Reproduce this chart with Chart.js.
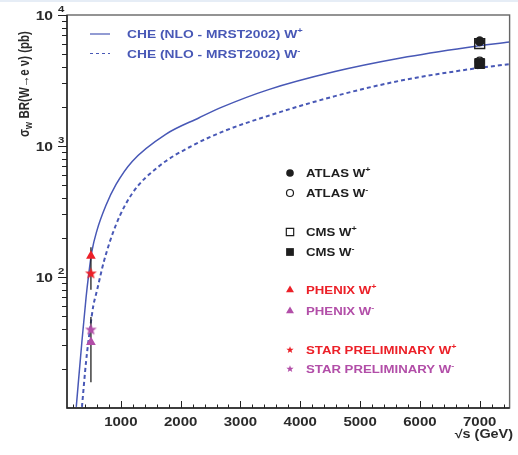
<!DOCTYPE html>
<html>
<head>
<meta charset="utf-8">
<script src="https://cdn.jsdelivr.net/npm/chart.js@4/dist/chart.umd.min.js"></script>
<style>
html, body { margin: 0; padding: 0; background: #fff; }
canvas { display: block; }
</style>
</head>
<body>
<canvas id="myChart" width="518" height="455"></canvas>
<script>
// CHE (NLO - MRST2002) curves
var cheWpX = [255, 350, 420, 460, 515, 600, 750, 920, 1190, 1750, 2310, 2690, 3470, 4580, 5680, 6790, 7500];
var cheWpY = [10.2, 32.5, 70.7, 102, 156, 226, 351, 509, 763, 1229, 1644, 1979, 2694, 3700, 4693, 5649, 6223];
var cheWmX = [350, 420, 485, 540, 600, 720, 920, 1190, 1635, 2190, 2740, 3470, 4580, 5680, 6790, 7500];
var cheWmY = [10.2, 22.9, 40.2, 60.3, 78.5, 133, 251, 434, 699, 1003, 1307, 1703, 2403, 3157, 3832, 4222];

// measurements (pb)
var lhcX = [7000];
var atlasWp = [6300];
var atlasWm = [4400];
var cmsWp = [6050];
var cmsWm = [4260];
var rhicX = [500];
var phenixWp = [145];
var phenixWm = [31.8];
var phenixWpErr = [80, 169];
var phenixWmErr = [15.7, 49.4];
var starWp = [106];
var starWm = [39.5];

// axis ticks
var xTickLabels = [1000, 2000, 3000, 4000, 5000, 6000, 7000];
var yDecades = [100, 1000, 10000];

var BLUE = '#4858b6';
var RED = '#ec2028';
var PURPLE = '#b24ea8';
var INK = '#1e1e1e';
var SX = 1.2; // text in the picture is a bit stretched sideways

function pts(xs, ys) {
  var out = [];
  for (var i = 0; i < ys.length; i++) out.push({x: xs.length == 1 ? xs[0] : xs[i], y: ys[i]});
  return out;
}

function starImg(R, color) {
  var c = document.createElement('canvas');
  var s = Math.ceil(R * 2 + 2);
  c.width = s; c.height = s;
  var g = c.getContext('2d');
  g.fillStyle = color;
  g.beginPath();
  for (var i = 0; i < 10; i++) {
    var r = i % 2 ? R * 0.42 : R;
    var a = -Math.PI / 2 + i * Math.PI / 5;
    g.lineTo(s / 2 + r * Math.cos(a), s / 2 + r * Math.sin(a));
  }
  g.closePath();
  g.fill();
  return c;
}

function fontOf(size) {
  return 'bold ' + size + 'px "Liberation Sans", Arial, sans-serif';
}

// parts: [text, 0 normal | 1 superscript | 2 subscript]
function txt(ctx, parts, x, y, size, color, align, rot) {
  ctx.save();
  ctx.fillStyle = color;
  ctx.textBaseline = 'alphabetic';
  var w = 0;
  parts.forEach(function (p) {
    ctx.font = fontOf(p[1] ? size * 0.68 : size);
    w += ctx.measureText(p[0]).width;
  });
  ctx.translate(x, y);
  if (rot) { ctx.rotate(-Math.PI / 2); ctx.scale(1, SX); }
  else ctx.scale(SX, 1);
  var cx = align == 'right' ? -w : align == 'center' ? -w / 2 : 0;
  parts.forEach(function (p) {
    ctx.font = fontOf(p[1] ? size * 0.68 : size);
    var dy = p[1] == 1 ? -size * 0.42 : p[1] == 2 ? size * 0.25 : 0;
    ctx.fillText(p[0], cx, dy);
    cx += ctx.measureText(p[0]).width;
  });
  ctx.restore();
}

function marker(ctx, style, r, fill, stroke, x, y) {
  ctx.save();
  ctx.fillStyle = fill;
  ctx.strokeStyle = stroke;
  ctx.lineWidth = 1.2;
  Chart.helpers.drawPoint(ctx, {pointStyle: style, radius: r, rotation: 0, borderWidth: stroke ? 1.2 : 0}, x, y);
  ctx.restore();
}

var paintPlugin = {
  id: 'paint',
  beforeDraw: function (chart) {
    var ctx = chart.ctx;
    ctx.save();
    ctx.fillStyle = '#fff';
    ctx.fillRect(0, 0, chart.width, chart.height);
    ctx.fillStyle = '#e6edf6';
    ctx.fillRect(0, 0, chart.width, 2);
    ctx.restore();
  },
  afterDraw: function (chart) {
    var ctx = chart.ctx;
    var a = chart.chartArea;
    var xs = chart.scales.x, ys = chart.scales.y;

    // frame
    ctx.save();
    ctx.lineWidth = 1.4;
    ctx.strokeStyle = '#666';
    ctx.strokeRect(a.left, a.top, a.right - a.left, a.bottom - a.top);
    ctx.strokeStyle = '#222';
    ctx.beginPath();
    ctx.moveTo(a.left, a.top); ctx.lineTo(a.left, a.bottom); ctx.lineTo(a.right, a.bottom);
    ctx.stroke();

    // x ticks (inside, upward)
    ctx.lineWidth = 1;
    ctx.beginPath();
    for (var v = 200; v < xs.max; v += 200) {
      var px = Math.round(xs.getPixelForValue(v)) + 0.5;
      var len = v % 1000 == 0 ? 7 : 3.5;
      ctx.moveTo(px, a.bottom); ctx.lineTo(px, a.bottom - len);
    }
    // y ticks (outside, left)
    for (var d = 10; d < ys.max; d *= 10) {
      for (var m = 1; m < 10; m++) {
        var val = d * m;
        if (val <= ys.min) continue;
        var py = Math.round(ys.getPixelForValue(val)) + 0.5;
        var l = m == 1 ? 9 : 5;
        ctx.moveTo(a.left - l, py); ctx.lineTo(a.left, py);
      }
    }
    var pt = Math.round(ys.getPixelForValue(ys.max)) + 0.5;
    ctx.moveTo(a.left - 9, pt); ctx.lineTo(a.left, pt);
    ctx.stroke();
    ctx.restore();

    // tick labels
    xTickLabels.forEach(function (v) {
      txt(ctx, [[String(v), 0]], xs.getPixelForValue(v), 426, 12.5, '#2a2a2a', 'center');
    });
    yDecades.forEach(function (v) {
      var py = ys.getPixelForValue(v);
      txt(ctx, [['10', 0]], 53, py + 5, 13, '#2a2a2a', 'right');
      txt(ctx, [[String(Math.round(Math.log10(v))), 0]], 58, py - 3, 9.5, '#2a2a2a', 'left');
    });

    // axis titles
    txt(ctx, [['\u221As (GeV)', 0]], 513, 438, 12, '#2a2a2a', 'right');
    txt(ctx, [['\u03C3', 0], ['W', 2], [' BR(W\u2192e \u03BD) (pb)', 0]], 29, 137, 11.5, '#2a2a2a', 'left', true);

    // theory legend
    ctx.save();
    ctx.strokeStyle = BLUE;
    ctx.lineWidth = 1.2;
    ctx.beginPath(); ctx.moveTo(90, 34); ctx.lineTo(110, 34); ctx.stroke();
    ctx.setLineDash([3, 3]);
    ctx.beginPath(); ctx.moveTo(90, 53.5); ctx.lineTo(110, 53.5); ctx.stroke();
    ctx.restore();
    txt(ctx, [['CHE (NLO - MRST2002) W', 0], ['+', 1]], 127, 38, 11.5, BLUE, 'left');
    txt(ctx, [['CHE (NLO - MRST2002) W', 0], ['-', 1]], 127, 58, 11.5, BLUE, 'left');

    // data legend
    var rows = [
      [173, 'circle', 3.8, INK, null, 'ATLAS W', '+', INK],
      [193, 'circle', 3.5, 'rgba(0,0,0,0)', INK, 'ATLAS W', '-', INK],
      [232, 'rect', 5.2, 'rgba(0,0,0,0)', INK, 'CMS W', '+', INK],
      [252, 'rect', 5.5, INK, null, 'CMS W', '-', INK],
      [290, 'triangle', 4.6, RED, null, 'PHENIX W', '+', RED],
      [311, 'triangle', 4.6, PURPLE, null, 'PHENIX W', '-', PURPLE],
      [350, starImg(3.8, RED), 0, RED, null, 'STAR PRELIMINARY W', '+', RED],
      [369, starImg(3.8, PURPLE), 0, PURPLE, null, 'STAR PRELIMINARY W', '-', PURPLE]
    ];
    rows.forEach(function (r) {
      marker(ctx, r[1], r[2], r[3], r[4], 290, r[0]);
      txt(ctx, [[r[5], 0], [r[6], 1]], 306, r[0] + 4, 11, r[7], 'left');
    });
  }
};

var ctx = document.getElementById('myChart').getContext('2d');
var graph = new Chart(ctx, {
  type: 'scatter',
  data: {
    datasets: [
      { data: pts(lhcX, atlasWp), pointStyle: 'circle', pointRadius: 4.5, pointBackgroundColor: INK, pointBorderColor: INK, pointBorderWidth: 1, order: 0 },
      { data: pts(lhcX, cmsWp), pointStyle: 'rect', pointRadius: 7, pointBackgroundColor: 'rgba(0,0,0,0)', pointBorderColor: INK, pointBorderWidth: 1.4, order: 1 },
      { data: pts(lhcX, atlasWm), pointStyle: 'circle', pointRadius: 4.5, pointBackgroundColor: 'rgba(0,0,0,0)', pointBorderColor: INK, pointBorderWidth: 1.2, order: 1 },
      { data: pts(lhcX, cmsWm), pointStyle: 'rect', pointRadius: 7, pointBackgroundColor: INK, pointBorderColor: INK, pointBorderWidth: 1, order: 1 },
      { data: pts(rhicX, phenixWp), pointStyle: 'triangle', pointRadius: 5.6, pointBackgroundColor: RED, pointBorderWidth: 0, order: 0 },
      { data: pts(rhicX, phenixWm), pointStyle: 'triangle', pointRadius: 5.6, pointBackgroundColor: PURPLE, pointBorderWidth: 0, order: 0 },
      { data: pts(rhicX, starWp), pointStyle: starImg(6.2, RED), order: 0 },
      { data: pts(rhicX, starWm), pointStyle: starImg(6.2, PURPLE), order: 0 },
      { data: pts(rhicX, phenixWpErr), showLine: true, borderColor: '#222', borderWidth: 1.3, pointRadius: 0, order: 2 },
      { data: pts(rhicX, phenixWmErr), showLine: true, borderColor: '#222', borderWidth: 1.3, pointRadius: 0, order: 2 },
      { data: pts(cheWpX, cheWpY), showLine: true, borderColor: BLUE, borderWidth: 1.5, pointRadius: 0, cubicInterpolationMode: 'monotone', order: 3 },
      { data: pts(cheWmX, cheWmY), showLine: true, borderColor: BLUE, borderWidth: 2, borderDash: [4, 3], pointRadius: 0, cubicInterpolationMode: 'monotone', order: 3 }
    ]
  },
  options: {
    responsive: false,
    animation: false,
    layout: { padding: { left: 67, right: 5, top: 15, bottom: 47 } },
    plugins: { legend: { display: false }, tooltip: { enabled: false } },
    scales: {
      x: { type: 'linear', min: 100, max: 7500, display: false },
      y: { type: 'logarithmic', min: 10, max: 10000, display: false }
    }
  },
  plugins: [paintPlugin]
});
</script>
</body>
</html>
